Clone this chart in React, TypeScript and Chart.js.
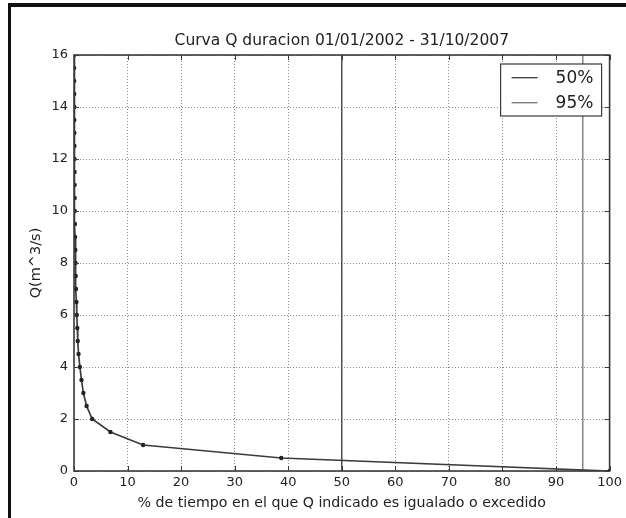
import React, { useEffect, useRef } from "react";
import { Chart, registerables } from "chart.js";

Chart.register(...registerables);

// ---- data ----
const chartTitle = "Curva Q duracion 01/01/2002 - 31/10/2007";
const xAxisTitle = "% de tiempo en el que Q indicado es igualado o excedido";
const yAxisTitle = "Q(m^3/s)";

// % of time the flow is equalled or exceeded
const durationPct = [
  0.01, 0.02, 0.03, 0.04, 0.05, 0.06, 0.07, 0.08, 0.09, 0.1, 0.11, 0.13,
  0.15, 0.17, 0.2, 0.24, 0.28, 0.32, 0.37, 0.45, 0.52, 0.62, 0.7, 0.85,
  1.1, 1.4, 1.75, 2.35, 3.4, 6.8, 12.9, 38.7, 100,
];
// flow Q (m^3/s)
const flowQ = [
  16, 15.5, 15, 14.5, 14, 13.5, 13, 12.5, 12, 11.5, 11, 10.5,
  10, 9.5, 9, 8.5, 8, 7.5, 7, 6.5, 6, 5.5, 5, 4.5,
  4, 3.5, 3, 2.5, 2, 1.5, 1, 0.5, 0,
];

const xTicks = [0, 10, 20, 30, 40, 50, 60, 70, 80, 90, 100];
const yTicks = [0, 2, 4, 6, 8, 10, 12, 14, 16];

const refPct = [50, 95];
const refLabels = ["50%", "95%"];

// ---- styles ----
const FONT = "'DejaVu Sans', 'Bitstream Vera Sans', sans-serif";
const refColors = ["#3a3a3a", "#767676"];
const curveColor = "#3c3c3c";
const frameColor = "#3a3a3a";

const decorPlugin = {
  id: "decor",
  beforeDraw(chart: any) {
    const ctx = chart.ctx;
    ctx.save();
    ctx.fillStyle = "#ffffff";
    ctx.fillRect(0, 0, chart.width, chart.height);
    ctx.fillStyle = "#111111";
    ctx.fillRect(8, 3, chart.width - 8, 4);
    ctx.fillRect(8, 3, 3, chart.height - 3);
    ctx.restore();
  },
  afterDraw(chart: any) {
    const { ctx, chartArea: a, scales } = chart;
    ctx.save();
    // title centred over the plot area
    ctx.fillStyle = "#222222";
    ctx.font = `15.5px ${FONT}`;
    ctx.textAlign = "center";
    ctx.textBaseline = "middle";
    ctx.fillText(chartTitle, (a.left + a.right) / 2, 41);

    // inward ticks
    ctx.strokeStyle = frameColor;
    ctx.lineWidth = 1;
    const tl = 5;
    xTicks.forEach((v) => {
      const px = Math.round(scales.x.getPixelForValue(v)) + 0.5;
      ctx.beginPath();
      ctx.moveTo(px, a.bottom);
      ctx.lineTo(px, a.bottom - tl);
      ctx.moveTo(px, a.top);
      ctx.lineTo(px, a.top + tl);
      ctx.stroke();
    });
    yTicks.forEach((v) => {
      const py = Math.round(scales.y.getPixelForValue(v)) + 0.5;
      ctx.beginPath();
      ctx.moveTo(a.left, py);
      ctx.lineTo(a.left + tl, py);
      ctx.moveTo(a.right, py);
      ctx.lineTo(a.right - tl, py);
      ctx.stroke();
    });
    // frame
    ctx.lineWidth = 1.6;
    ctx.strokeRect(a.left, a.top, a.right - a.left, a.bottom - a.top);

    // legend
    const bw = 101;
    const bh = 52;
    const bx = a.right - 8 - bw;
    const by = a.top + 9;
    ctx.fillStyle = "#ffffff";
    ctx.fillRect(bx, by, bw, bh);
    ctx.lineWidth = 1.2;
    ctx.strokeStyle = frameColor;
    ctx.strokeRect(bx, by, bw, bh);
    ctx.font = `17px ${FONT}`;
    ctx.textBaseline = "middle";
    ctx.textAlign = "left";
    refLabels.forEach((lab, i) => {
      const ly = by + 13.7 + i * 25;
      ctx.strokeStyle = refColors[i];
      ctx.lineWidth = 1.3;
      ctx.beginPath();
      ctx.moveTo(bx + 11, ly);
      ctx.lineTo(bx + 37, ly);
      ctx.stroke();
      ctx.fillStyle = "#222222";
      ctx.fillText(lab, bx + 55, ly + 1);
    });
    ctx.restore();
  },
};

export default function App() {
  const ref = useRef<HTMLCanvasElement | null>(null);

  useEffect(() => {
    if (!ref.current) return;
    const curve = durationPct.map((x, i) => ({ x, y: flowQ[i] }));
    const refSets = refPct.map((p, i) => ({
      label: refLabels[i],
      data: [
        { x: p, y: yTicks[0] },
        { x: p, y: yTicks[yTicks.length - 1] },
      ],
      showLine: true,
      borderColor: refColors[i],
      borderWidth: 1.3,
      pointRadius: 0,
    }));

    const chart = new Chart(ref.current, {
      type: "scatter",
      data: {
        datasets: [
          {
            label: "Q",
            data: curve,
            showLine: true,
            borderColor: curveColor,
            borderWidth: 1.7,
            pointRadius: 2.2,
            pointBackgroundColor: "#222222",
            pointBorderColor: "#222222",
            pointBorderWidth: 0,
          },
          ...refSets,
        ],
      },
      options: {
        responsive: false,
        animation: false,
        layout: { padding: { left: 0, right: 15, top: 55, bottom: 0 } },
        plugins: {
          legend: { display: false },
          tooltip: { enabled: false },
          title: { display: false },
        },
        scales: {
          x: {
            type: "linear",
            min: xTicks[0],
            max: xTicks[xTicks.length - 1],
            afterBuildTicks: (s: any) => {
              s.ticks = xTicks.map((v) => ({ value: v }));
            },
            afterFit: (s: any) => {
              s.height = 47;
            },
            ticks: {
              color: "#222222",
              padding: 4,
              maxRotation: 0,
              font: { family: FONT, size: 13 },
            },
            grid: { color: "#8a8a8a", drawTicks: false, lineWidth: 1 },
            border: { display: false, dash: [1, 2] },
            title: {
              display: true,
              text: xAxisTitle,
              color: "#222222",
              font: { family: FONT, size: 14.2 },
              padding: { top: 0, bottom: 6 },
            },
          },
          y: {
            type: "linear",
            min: yTicks[0],
            max: yTicks[yTicks.length - 1],
            afterBuildTicks: (s: any) => {
              s.ticks = yTicks.map((v) => ({ value: v }));
            },
            afterFit: (s: any) => {
              s.width = 74;
            },
            ticks: {
              color: "#222222",
              padding: 6,
              font: { family: FONT, size: 13 },
            },
            grid: { color: "#8a8a8a", drawTicks: false, lineWidth: 1 },
            border: { display: false, dash: [1, 2] },
            title: {
              display: true,
              text: yAxisTitle,
              color: "#222222",
              font: { family: FONT, size: 14.5 },
              padding: { top: 28, bottom: 0 },
            },
          },
        },
      },
      plugins: [decorPlugin],
    } as any);

    return () => chart.destroy();
  }, []);

  return (
    <div style={{ position: "absolute", left: 0, top: 0, width: 626, height: 518 }}>
      <canvas ref={ref} width={626} height={518} style={{ display: "block" }} />
    </div>
  );
}
